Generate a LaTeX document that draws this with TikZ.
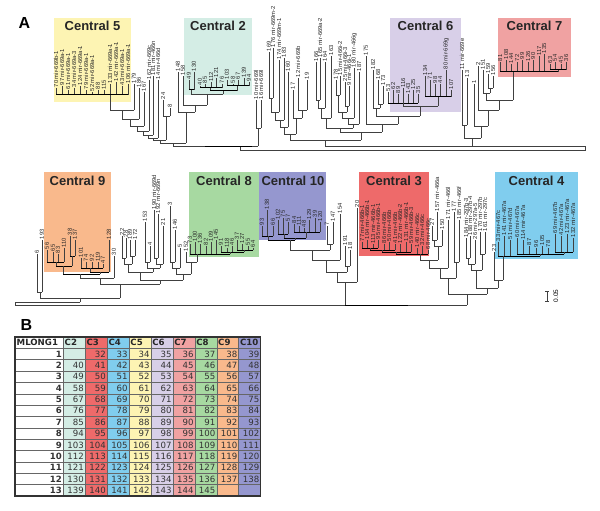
\documentclass[tikz,border=0pt]{standalone}
\usepackage{fontspec}
\setmainfont{Liberation Sans}
\newfontfamily\tabfont{DejaVu Sans}
\usepackage{xcolor}
\usetikzlibrary{calc}
\definecolor{cTwo}{HTML}{D4EDE5}
\definecolor{cThree}{HTML}{EE6A6A}
\definecolor{cFour}{HTML}{80CDEE}
\definecolor{cFive}{HTML}{FDF4B3}
\definecolor{cSix}{HTML}{D8CFE8}
\definecolor{cSeven}{HTML}{F0A2A2}
\definecolor{cEight}{HTML}{A7D9A1}
\definecolor{cNine}{HTML}{F9B98C}
\definecolor{cTen}{HTML}{9597CF}
\tikzset{
  br/.style={draw=black!75, line width=0.5pt},
  cb/.style={draw=black, line width=1pt},
  lbl/.style={font=\fontsize{5.8}{6}\selectfont, text=black!85, rotate=90,
    anchor=west, inner sep=0.6pt},
  ctitle/.style={font=\bfseries\fontsize{13}{13}\selectfont, text=black!85,
    anchor=base},
  panel/.style={font=\bfseries\fontsize{16}{16}\selectfont, anchor=base west},
  num/.style={font=\tabfont\fontsize{8.6}{10}\selectfont, text=black!80,
    anchor=east, inner sep=0pt},
  hdr/.style={font=\tabfont\bfseries\fontsize{8.6}{10}\selectfont,
    text=black!85, anchor=west, inner sep=0pt},
  tline/.style={draw=black!60, line width=0.6pt}
}
% leaves: x/tip/base/label
\newcommand\leaves[1]{\foreach \x/\t/\b/\l in {#1}{%
  \draw[br] (\x,\b) -- (\x,\t) node[lbl] (lf-\x-\t) {\l};}}
% clade bar from x1 to x2 at y, stem at xs down to y2
\newcommand\clade[6][br]{\draw[#1] (#2,#4) -- (#3,#4);
  \draw[br] (#5,#4) -- (#5,#6);}

\begin{document}
\begin{tikzpicture}[x=1pt,y=-1pt]
\useasboundingbox (0,0) rectangle (600,511);

% ---- panel A, coloured clusters
\fill[cFive] (54,18) rectangle (131,102);
\fill[cTwo] (184,18) rectangle (252,95);
\fill[cSix] (390,18) rectangle (461,112);
\fill[cSeven] (498,18) rectangle (571,77);
\fill[cNine] (44,172) rectangle (111,272);
\fill[cEight] (189,172) rectangle (259,257);
\fill[cTen] (259,172) rectangle (326,240);
\fill[cThree] (359,172) rectangle (429,256);
\fill[cFour] (495,172) rectangle (578,259);
\node[panel] (pA) at (15,29) {A};
\node[ctitle] (t5) at (92.5,31) {Central 5};
\node[ctitle] (t2) at (218,31) {Central 2};
\node[ctitle] (t6) at (425.5,31) {Central 6};
\node[ctitle] (t7) at (534.5,31) {Central 7};
\node[ctitle] (t9) at (77.5,185) {Central 9};
\node[ctitle] (t8) at (224,185) {Central 8};
\node[ctitle] (t10) at (293,185) {Central 10};
\node[ctitle] (t3) at (394,185) {Central 3};
\node[ctitle] (t4) at (536.5,185) {Central 4};

% ---- upper tree
\leaves{56/88/95/70 mir-669b-1, 62/86/95/97 mir-669a-1, 68/90/95/61 mir-669a-1,
  74/88/95/34 mir-669a-3, 80/86/95/124 mir-669a-1, 86/90/95/79 mir-669a-1,
  92/92/95/52 mir-669a-1, 98/90/95/88, 104/90/95/115, 110/84/95/133 mir-669a-1,
  116/82/95/142 mir-669a-1, 122/86/95/43 mir-669a-1, 128/84/95/106 mir-669a-1}
\clade[cb]{56}{128}{95}{110}{110}
\leaves{134/84/110/179, 139/88/119/186, 144/92/126/167, 149/80/131/162 mir-669c,
  153/76/135/181 mir-466n, 158/80/138/14 mir-466d, 163/100/116/24, 170/108/116/8}
\clade{110}{134}{110}{122}{119}
\clade{122}{139}{119}{130}{126}
\clade{130}{144}{126}{137}{131}
\clade{137}{149}{131}{143}{135}
\clade{143}{153}{135}{148}{138}
\clade{148}{158}{138}{153}{140}
\clade{163}{170}{116}{166}{140}
\clade{153}{166}{140}{160}{143}
\leaves{178/72/112/148, 183/76/105/158,
  189/80/90/49, 194/72/90/130, 200/86/88/40, 205/84/88/85, 211/82/88/112,
  216/78/88/121, 222/84/88/76, 227/80/86/103, 233/84/86/58, 238/80/86/67,
  244/78/86/139, 249/82/86/94}
\clade[cb]{189}{194}{90}{191}{94}
\clade[cb]{200}{222}{88}{210}{91}
\clade[cb]{227}{249}{86}{237}{91}
\clade[cb]{210}{237}{91}{223}{94}
\clade{191}{223}{94}{207}{105}
\clade{183}{207}{105}{195}{112}
\clade{178}{195}{112}{186}{143}
\clade{160}{186}{143}{173}{146}
\leaves{256/100/128/10 mir-669l, 261/100/128/16 mir-669l}
\clade{256}{261}{128}{258}{146}
\clade{173}{258}{146}{240}{150}
\draw[cb] (205,146) -- (252,146);
\leaves{269/52/98/169, 273/48/98/176 mir-669m-2, 279/60/112/174 mir-669m-1,
  284/58/120/183, 288/72/127/160, 293/90/118/17, 298/78/110/12 mir-669b,
  307/80/110/19}
\clade{269}{273}{98}{271}{112}
\clade{271}{279}{112}{275}{120}
\clade{275}{284}{120}{280}{127}
\clade{280}{288}{127}{284}{134}
\clade{298}{307}{110}{302}{118}
\clade{293}{302}{118}{296}{134}
\clade{284}{296}{134}{290}{140}
\leaves{316/62/100/166, 320/58/100/165 mir-669a-2, 325/62/108/164, 331/56/118/163,
  336/80/95/178, 340/76/95/15 mir-466i-2, 345/82/106/25 mir-466i-3,
  349/86/106/9 mir-466i-1, 354/68/118/180 mir-466g, 359/72/124/187,
  366/56/124/175, 373/70/108/182, 378/80/104/168, 383/86/104/173}
\clade{316}{320}{100}{318}{108}
\clade{318}{325}{108}{321}{118}
\clade{321}{331}{118}{326}{128}
\clade{336}{340}{95}{338}{112}
\clade{345}{349}{106}{347}{112}
\clade{338}{347}{112}{342}{118}
\clade{342}{354}{118}{348}{124}
\clade{348}{359}{124}{353}{128}
\clade{326}{353}{128}{340}{132}
\clade{378}{383}{104}{380}{108}
\clade{373}{380}{108}{376}{116}
\leaves{388/92/103/53, 393/90/103/62, 398/94/103/89, 403/88/103/116,
  408/94/103/143, 413/90/103/125, 418/94/103/35, 425/76/97/134, 430/80/97/71,
  435/84/97/98, 440/84/97/44, 446/70/97/80 mir-669g, 451/90/97/107}
\clade[cb]{388}{418}{103}{403}{106}
\clade[cb]{425}{451}{97}{438}{106}
\clade{403}{438}{106}{420}{116}
\clade{376}{420}{116}{398}{124}
\clade{366}{398}{124}{382}{132}
\clade{340}{382}{132}{361}{140}
\clade{290}{361}{140}{325}{146}
\leaves{500/62/72/81, 506/60/72/108, 511/64/72/144, 517/62/72/72, 522/60/72/99,
  528/62/72/126, 533/60/72/90, 539/56/72/117, 544/54/72/135, 550/64/70/63,
  555/62/70/54, 561/64/70/45, 566/62/70/36}
\clade[cb]{550}{566}{70}{558}{72}
\clade[cb]{500}{558}{72}{513}{100}
\leaves{462/70/125/11 mir-669e, 467/78/125/13, 474/84/126/1, 478/66/110/2,
  483/70/93/151, 488/74/88/159, 493/76/88/156}
\clade{488}{493}{88}{490}{93}
\clade{483}{490}{93}{486}{100}
\clade{486}{513}{100}{499}{110}
\clade{478}{499}{110}{488}{126}
\clade{474}{488}{126}{481}{138}
\clade{462}{467}{125}{464}{138}
\clade{464}{481}{138}{472}{146}
\draw[br] (325,146) -- (585,146) -- (585,150) -- (240,150);

% ---- lower tree
\leaves{37/254/292/6, 42/240/292/193}
\clade{37}{42}{292}{40}{298}
\leaves{47/250/262/56, 53/252/262/65, 58/254/262/83, 64/248/262/110,
  70/236/256/38, 75/240/256/137, 81/258/268/101, 86/262/268/74, 92/262/268/92,
  98/262/268/119, 103/264/268/47, 109/240/272/128, 114/256/278/30}
\clade[cb]{47}{64}{262}{56}{266}
\clade[cb]{70}{75}{256}{72}{266}
\clade[cb]{56}{72}{266}{63}{274}
\clade[cb]{81}{103}{268}{90}{272}
\clade[cb]{90}{109}{272}{100}{274}
\clade[cb]{63}{100}{274}{80}{278}
\clade{80}{114}{278}{100}{284}
\leaves{122/236/258/22, 126/238/258/28, 130/240/256/189, 135/240/256/172,
  145/222/262/153, 150/246/262/4, 154/210/258/190 mir-669d,
  158/214/258/192 mir-669n, 163/226/264/21, 170/206/262/3, 175/230/262/146,
  180/248/268/5, 186/252/262/152}
\clade{122}{126}{258}{124}{264}
\clade{130}{135}{256}{132}{264}
\clade{124}{132}{264}{128}{272}
\clade{145}{150}{262}{147}{268}
\clade{154}{158}{258}{156}{264}
\clade{156}{163}{264}{160}{268}
\clade{147}{160}{268}{153}{272}
\clade{128}{153}{272}{140}{280}
\clade{170}{175}{262}{172}{268}
\clade{172}{180}{268}{176}{274}
\leaves{190/244/254/73, 195/242/254/100, 200/244/254/136, 206/246/254/82,
  211/242/254/109, 216/240/254/145, 221/246/252/91, 227/248/252/118,
  232/246/252/46, 237/240/250/37, 242/244/250/127, 248/246/250/55,
  253/248/250/64}
\clade[cb]{237}{253}{250}{244}{252}
\clade[cb]{221}{244}{252}{230}{254}
\clade[cb]{190}{230}{254}{197}{262}
\clade{186}{197}{262}{191}{274}
\clade{176}{191}{274}{183}{280}
\clade{140}{183}{280}{160}{284}
\clade{100}{160}{284}{120}{298}
\clade{40}{120}{298}{80}{302}
\draw[br] (80,302) -- (15,302) -- (15,305) -- (467,305);
\draw[cb] (345,305) -- (408,305);
\leaves{262/226/236/93, 267/210/236/138, 273/226/236/66, 278/220/234/102,
  283/218/234/75, 288/222/234/57, 294/224/232/84, 299/226/232/111,
  304/228/232/48, 309/220/232/129, 315/218/232/39, 320/222/232/120}
\clade[cb]{262}{273}{236}{268}{240}
\clade[cb]{278}{288}{234}{284}{238}
\clade[cb]{294}{320}{232}{306}{238}
\clade[cb]{284}{306}{238}{295}{240}
\clade[cb]{268}{295}{240}{290}{250}
\leaves{327/226/244/7, 333/222/244/147, 340/214/260/154, 345/246/266/191,
  350/250/266/18, 357/208/282/20}
\clade{327}{333}{244}{330}{250}
\clade{290}{330}{250}{312}{260}
\clade{312}{340}{260}{326}{272}
\clade{345}{350}{266}{347}{272}
\clade{326}{347}{272}{337}{282}
\clade{337}{357}{282}{345}{305}
\leaves{362/242/248/77 mir-466b-1, 367/240/248/104 mir-466b-1,
  373/244/248/113 mir-466b-1, 378/240/248/95 mir-466b-1, 384/244/250/86 mir-466b,
  389/242/250/50 mir-466b, 395/244/250/41 mir-466b, 400/244/252/122 mir-466b-2,
  406/242/252/131 mir-466b-1, 411/244/252/59 mir-466b-3, 417/248/254/140 mir-466c,
  422/246/254/32 mir-466c, 428/250/254/68 mir-466c}
\clade[cb]{362}{378}{248}{370}{250}
\clade[cb]{370}{395}{250}{382}{252}
\clade[cb]{382}{411}{252}{396}{254}
\clade[cb]{396}{428}{254}{420}{260}
\leaves{432/226/240/27, 437/212/240/157 mir-466a, 442/230/246/150,
  448/220/268/171 mir-466l, 454/212/262/177, 459/220/262/185 mir-466f,
  466/238/258/184 mir-297b-3, 470/236/258/188 mir-297b-4,
  475/240/264/26 mir-297a-5, 480/232/254/170 mir-297b, 485/232/254/161 mir-297c,
  494/252/280/23}
\clade{432}{437}{240}{434}{246}
\clade{434}{442}{246}{438}{260}
\clade{420}{438}{260}{429}{268}
\clade{429}{448}{268}{440}{278}
\clade{454}{459}{262}{456}{278}
\clade{440}{456}{278}{448}{294}
\clade{466}{470}{258}{468}{264}
\clade{468}{475}{264}{471}{270}
\clade{480}{485}{254}{482}{270}
\clade{471}{482}{270}{476}{288}
\leaves{498/242/256/33 mir-467c, 504/236/256/141 mir-467a, 510/240/256/51 mir-467d,
  517/238/254/60 mir-467a, 523/240/254/114 mir-467a, 529/246/254/87,
  536/248/254/96, 542/246/254/105, 548/248/254/78, 555/234/252/69 mir-467b,
  561/236/252/42 mir-467a, 567/234/252/123 mir-467a, 573/238/252/132 mir-467a}
\clade[cb]{555}{573}{252}{564}{254}
\clade[cb]{517}{564}{254}{540}{256}
\clade[cb]{498}{540}{256}{503}{280}
\clade{494}{503}{280}{498}{288}
\clade{476}{498}{288}{487}{294}
\clade{448}{487}{294}{467}{305}

% scale bar
\draw[br, line width=0.7pt] (545,291) -- (549,291) (547,291) -- (547,301)
  coordinate (sb) (545,301) -- (549,301);
\node[font=\fontsize{6.5}{7}\selectfont, rotate=90, anchor=north] (sbl)
  at (550,296) {0.05};

% ---- panel B, table
\node[panel] (pB) at (17,330) {B};
\foreach \c/\col [count=\k from 0] in {C2/cTwo,C3/cThree,C4/cFour,C5/cFive,
    C6/cSix,C7/cSeven,C8/cEight,C9/cNine,C10/cTen} {
  \pgfmathsetmacro\xl{63.3+\k*21.93}
  \pgfmathsetmacro\xr{\xl+21.93}
  \fill[\col] (\xl,337) rectangle (\xr,496);
  \node[hdr] (h-\k) at (\xl+1.2,342.7) {\c};
  \foreach \r in {1,...,13} {
    \pgfmathtruncatemacro\v{31+9*(\r-1)+\k}
    \pgfmathtruncatemacro\skipit{(\r==1 && \k==0) || (\r==13 && \k>6)}
    \ifnum\skipit=0
      \node[num] (v-\r-\k) at (\xr-1.2,342.7+\r*11.36) {\v};
    \fi
  }
}
\node[hdr] (hm) at (16.5,342.7) {MLONG1};
\foreach \r in {1,...,13}
  \node[num, font=\tabfont\bfseries\fontsize{8.6}{10}\selectfont] (rw-\r)
    at (62,342.7+\r*11.36) {\r};
\foreach \r in {1,...,13} \draw[tline] (15,337+\r*11.36) -- (260.7,337+\r*11.36);
\foreach \k in {0,...,8} \draw[tline] (63.3+\k*21.93,337) -- (63.3+\k*21.93,496);
\draw[black!80, line width=1.4pt] (15,337) rectangle (260.7,496);
\end{tikzpicture}
\end{document}
